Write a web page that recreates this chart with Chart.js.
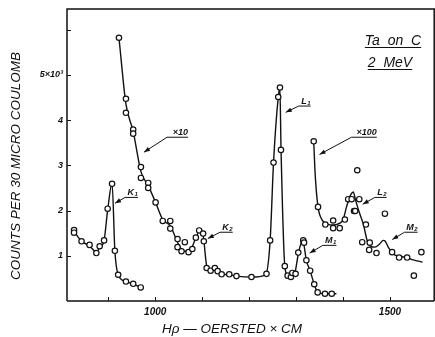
<!DOCTYPE html>
<html>
<head>
<meta charset="utf-8">
<script src="https://cdn.jsdelivr.net/npm/chart.js@4.4.1/dist/chart.umd.min.js"></script>
<style>
html,body{margin:0;padding:0;background:#fff;}
#c{display:block;}
</style>
</head>
<body>
<canvas id="c" width="435" height="337"></canvas>
<script>
// ---- data ----
// K1 series (measured points)
const k1X = [827,827,843,860,874.5,881.6,891,898.6,908,914,921,937.6,953,969];
const k1Y = [1.57,1.51,1.32,1.24,1.06,1.21,1.34,2.04,2.59,1.11,0.58,0.43,0.38,0.30];
// K1 drawn curve
const k1CurveX = [827,843,860,874,882,891,899,908,914,921,938,953,969];
const k1CurveY = [1.54,1.32,1.22,1.09,1.18,1.34,2.04,2.60,1.11,0.58,0.43,0.37,0.31];

// x10 / K2 / L1 / M1 series (measured points)
const midX = [922.7,937.6,937.6,953,953,969.5,969.5,985,985,1000.7,1016,1032,1032,1047.5,1047.5,1056,1063,1071,1079,1086.5,1093.6,1102,1103.5,1109.5,1118,1127,1133,1141.5,1157.7,1173,1205,1237,1244.8,1252,1262,1265.7,1267.8,1276,1282,1289,1292,1299,1304.7,1315.3,1317,1322,1330,1338.7,1346,1361.6,1376];
const midY = [5.82,4.47,4.16,3.79,3.70,2.96,2.72,2.61,2.50,2.18,1.77,1.77,1.60,1.37,1.19,1.10,1.30,1.08,1.15,1.40,1.56,1.49,1.32,0.73,0.67,0.73,0.66,0.59,0.59,0.55,0.53,0.60,1.34,3.06,4.51,4.72,3.34,0.77,0.56,0.53,0.62,0.60,1.07,1.34,1.29,0.90,0.67,0.37,0.19,0.16,0.16];
// x10 / K2 / L1 / M1 drawn curve
const midCurveX = [922.7,937.6,953,969.5,985,1000.7,1016,1032,1047.5,1056,1065,1075,1086,1095,1102,1110,1118,1127,1141,1157,1173,1205,1235,1244.8,1252,1262,1265.5,1268,1276,1282,1289,1297,1305,1313,1316,1322,1330,1338.7,1346,1361.6,1376,1386];
const midCurveY = [5.82,4.35,3.75,2.86,2.55,2.18,1.80,1.66,1.30,1.14,1.10,1.13,1.38,1.55,1.45,0.76,0.70,0.69,0.60,0.58,0.55,0.53,0.58,1.34,3.06,4.50,4.72,3.34,0.77,0.56,0.53,0.60,1.05,1.32,1.28,0.90,0.67,0.37,0.20,0.16,0.16,0.16];

// x100 / L2 / M2 series (measured points)
const hiX = [1337.6,1346.8,1362.4,1379,1379,1393,1404,1411,1418.4,1423.5,1426,1430.4,1434.7,1440.9,1448.8,1455.7,1457,1471.3,1489.3,1504.6,1519.5,1536.6,1551,1567];
const hiY = [3.53,2.08,1.69,1.78,1.61,1.61,1.80,2.25,2.25,1.99,1.99,2.89,2.25,1.30,1.69,1.13,1.29,1.06,1.93,1.08,0.96,0.96,0.56,1.08];
// x100 / L2 / M2 drawn curve
const hiCurveX = [1337.6,1341,1346.8,1355,1366,1380,1393,1400.3,1407.5,1416,1421.8,1427,1435,1443,1453.7,1468,1478,1485.8,1490,1496.4,1507,1520,1535.5,1550,1569.6];
const hiCurveY = [3.53,2.75,2.08,1.80,1.70,1.68,1.72,1.80,2.08,2.34,2.41,2.22,1.95,1.71,1.27,1.19,1.26,1.34,1.32,1.19,1.04,0.99,0.96,0.91,0.86];

// axis ticks
const xTickValues = [900,1000,1100,1200,1300,1400,1500];
const xTickLabels = ['', '1000', '', '', '', '', '1500'];
const yTickValues = [1,2,3,4,5,6];
const yTickLabels = ['1','2','3','4','5×10³',''];

// annotation labels and their arrows (data coordinates)
const arrowMain = ['×10','K','K','L','×100','L','M','M'];
const arrowSub  = ['','1','2','1','','2','1','2'];
const arrowTipX = [976,914.3,1112,1278,1350,1442,1329,1505];
const arrowTipY = [3.29,2.16,1.38,4.17,3.24,2.14,1.06,1.36];
const arrowTailX = [1025,935.7,1138,1305.7,1418,1468,1357,1531];
const arrowTailY = [3.62,2.29,1.52,4.31,3.62,2.29,1.23,1.52];
const underlineEndX = [1070,963,1165,1331,1472,1493,1386,1559];

const FONT = '"Liberation Sans", "DejaVu Sans", Arial, sans-serif';
const toPts = (xs, ys) => xs.map((x, i) => ({x: x, y: ys[i]}));

const lineStyle = {
  showLine: true, pointRadius: 0, borderColor: '#111', borderWidth: 1.4,
  cubicInterpolationMode: 'monotone', fill: false, order: 2
};
const pointStyle = {
  showLine: false, pointRadius: 2.7, pointBackgroundColor: '#fff',
  pointBorderColor: '#111', pointBorderWidth: 1.2, order: 1
};

const framePlugin = {
  id: 'frame',
  afterDatasetsDraw(chart) {
    const ctx = chart.ctx, a = chart.chartArea;
    const xs = chart.scales.x, ys = chart.scales.y;
    ctx.save();
    ctx.strokeStyle = '#111';
    ctx.lineWidth = 1.5;
    ctx.beginPath();
    ctx.moveTo(a.left, a.bottom); ctx.lineTo(a.right - 0.8, a.bottom);
    ctx.moveTo(a.left, a.bottom); ctx.lineTo(a.left, a.top);
    ctx.lineTo(a.right - 0.8, a.top); ctx.lineTo(a.right - 0.8, a.bottom);
    ctx.stroke();
    ctx.lineWidth = 1;
    ctx.beginPath();
    xTickValues.forEach(v => {
      const p = Math.round(xs.getPixelForValue(v)) + 0.5;
      ctx.moveTo(p, a.bottom); ctx.lineTo(p, a.bottom - 4);
    });
    yTickValues.forEach(v => {
      const p = Math.round(ys.getPixelForValue(v)) + 0.5;
      ctx.moveTo(a.left, p); ctx.lineTo(a.left + 4, p);
    });
    ctx.stroke();

    // annotation arrows with underlined labels
    ctx.fillStyle = '#111';
    ctx.lineWidth = 1;
    for (let i = 0; i < arrowMain.length; i++) {
      const tx = xs.getPixelForValue(arrowTipX[i]), ty = ys.getPixelForValue(arrowTipY[i]);
      const sx = xs.getPixelForValue(arrowTailX[i]), sy = ys.getPixelForValue(arrowTailY[i]);
      const ex = xs.getPixelForValue(underlineEndX[i]);
      ctx.beginPath();
      ctx.moveTo(ex, sy); ctx.lineTo(sx, sy); ctx.lineTo(tx, ty);
      ctx.stroke();
      const ang = Math.atan2(ty - sy, tx - sx);
      const L = 6, W = 2.2;
      ctx.beginPath();
      ctx.moveTo(tx, ty);
      ctx.lineTo(tx - L * Math.cos(ang) + W * Math.sin(ang), ty - L * Math.sin(ang) - W * Math.cos(ang));
      ctx.lineTo(tx - L * Math.cos(ang) - W * Math.sin(ang), ty - L * Math.sin(ang) + W * Math.cos(ang));
      ctx.closePath();
      ctx.fill();
      // label, right-aligned at underline end
      ctx.font = 'italic bold 9px ' + FONT;
      const mw = ctx.measureText(arrowMain[i]).width;
      ctx.font = 'italic bold 6px ' + FONT;
      const sw = arrowSub[i] ? ctx.measureText(arrowSub[i]).width + 0.5 : 0;
      const x0 = ex - mw - sw;
      ctx.textBaseline = 'alphabetic';
      ctx.textAlign = 'left';
      ctx.font = 'italic bold 9px ' + FONT;
      ctx.fillText(arrowMain[i], x0, sy - 2);
      if (arrowSub[i]) {
        ctx.font = 'italic bold 6px ' + FONT;
        ctx.fillText(arrowSub[i], x0 + mw + 0.5, sy - 1);
      }
    }

    // legend box text
    ctx.font = 'italic 14px ' + FONT;
    ctx.textAlign = 'center';
    ctx.textBaseline = 'alphabetic';
    const t1 = 'Ta  on  C', t2 = '2  MeV';
    ctx.fillText(t1, 393, 45);
    ctx.fillText(t2, 390, 67);
    const w1 = ctx.measureText(t1).width, w2 = ctx.measureText(t2).width;
    ctx.lineWidth = 1;
    ctx.beginPath();
    ctx.moveTo(393 - w1 / 2, 47.5); ctx.lineTo(393 + w1 / 2, 47.5);
    ctx.moveTo(390 - w2 / 2, 69.5); ctx.lineTo(390 + w2 / 2, 69.5);
    ctx.stroke();

    // axis titles
    ctx.font = 'italic 13.5px ' + FONT;
    ctx.textAlign = 'center';
    ctx.textBaseline = 'middle';
    ctx.fillText('Hρ — OERSTED × CM', 232, 329);
    ctx.save();
    ctx.translate(16, 166);
    ctx.rotate(-Math.PI / 2);
    ctx.fillText('COUNTS PER 30 MICRO COULOMB', 0, 0);
    ctx.restore();
    ctx.restore();
  }
};

new Chart(document.getElementById('c'), {
  type: 'scatter',
  data: {
    datasets: [
      Object.assign({data: toPts(k1X, k1Y)}, pointStyle),
      Object.assign({data: toPts(midX, midY)}, pointStyle),
      Object.assign({data: toPts(hiX, hiY)}, pointStyle),
      Object.assign({data: toPts(k1CurveX, k1CurveY)}, lineStyle),
      Object.assign({data: toPts(midCurveX, midCurveY)}, lineStyle),
      Object.assign({data: toPts(hiCurveX, hiCurveY)}, lineStyle)
    ]
  },
  options: {
    responsive: false,
    animation: false,
    events: [],
    layout: {autoPadding: false, padding: {left: 0, right: 0, top: 9, bottom: 0}},
    plugins: {legend: {display: false}, tooltip: {enabled: false}},
    scales: {
      x: {
        type: 'linear', min: 812, max: 1596,
        afterBuildTicks: s => { s.ticks = xTickValues.map(v => ({value: v})); },
        afterFit: s => { s.height = 36; s.paddingLeft = 0; s.paddingRight = 0; },
        grid: {display: false, drawTicks: false},
        border: {display: false},
        ticks: {
          autoSkip: false, maxRotation: 0, padding: 5, color: '#111',
          font: {family: FONT, size: 10, style: 'italic', weight: 'bold'},
          callback: (v, i) => xTickLabels[i]
        }
      },
      y: {
        type: 'linear', min: 0, max: 6.455,
        afterBuildTicks: s => { s.ticks = yTickValues.map(v => ({value: v})); },
        afterFit: s => { s.width = 67; s.paddingTop = 0; s.paddingBottom = 0; },
        grid: {display: false, drawTicks: false},
        border: {display: false},
        ticks: {
          autoSkip: false, padding: 4, color: '#111',
          font: {family: FONT, size: 9, style: 'italic', weight: 'bold'},
          callback: (v, i) => yTickLabels[i]
        }
      }
    }
  },
  plugins: [framePlugin]
});
</script>
</body>
</html>
